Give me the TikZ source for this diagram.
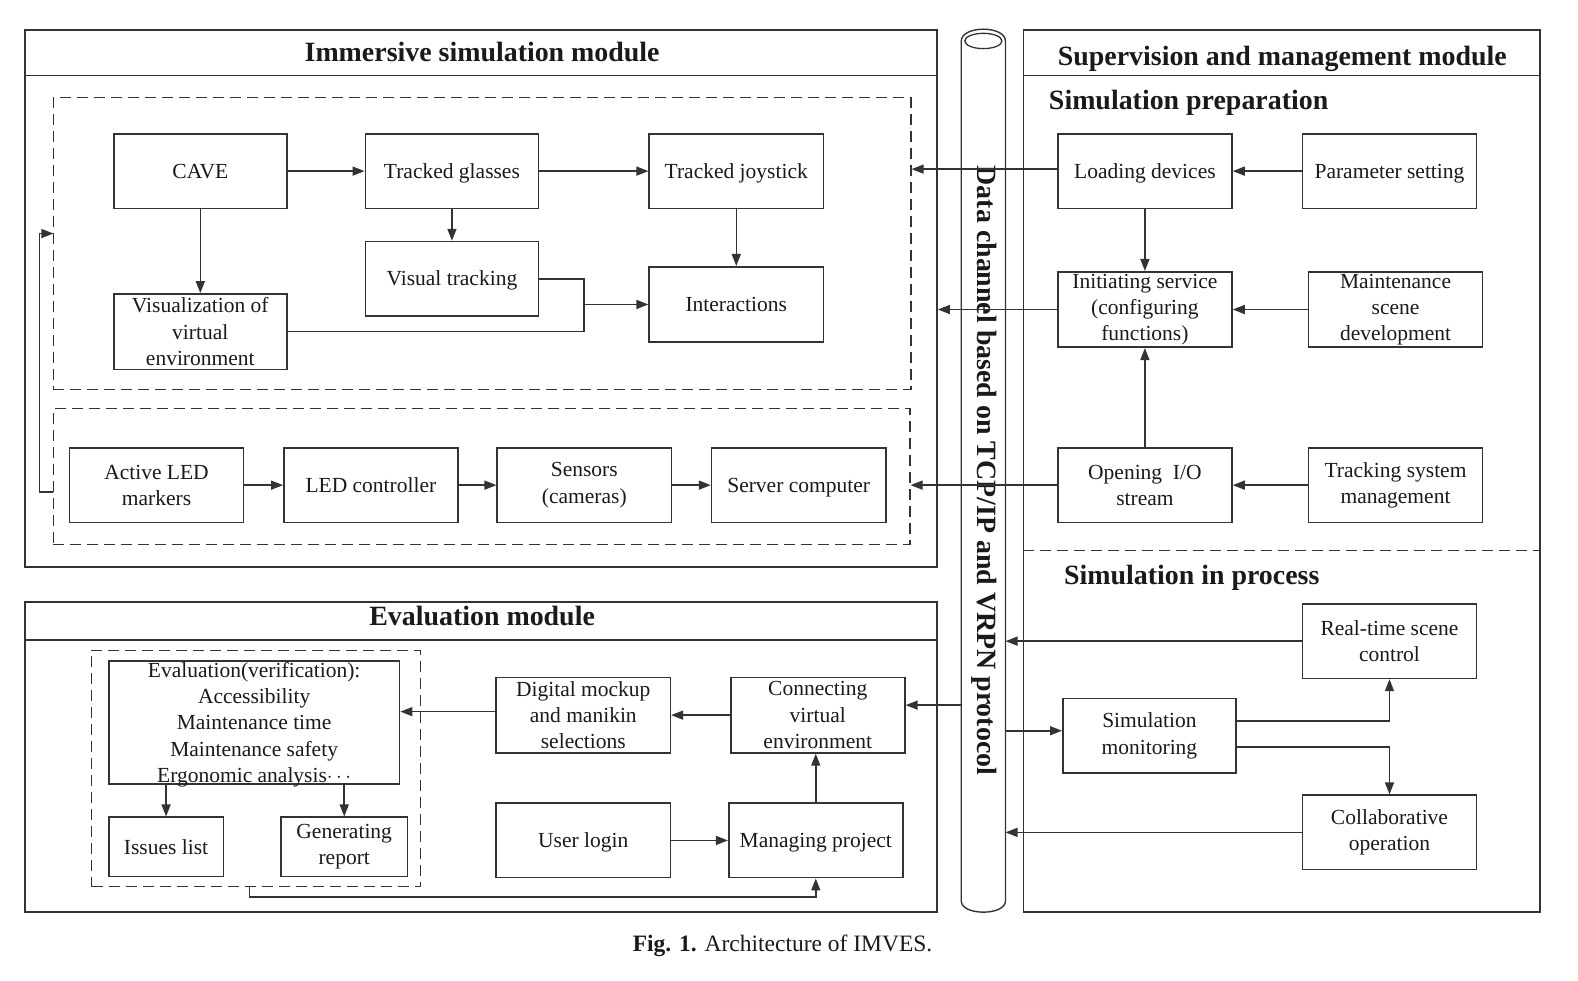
\documentclass[tikz,border=0pt]{standalone}
\usepackage{fontspec}
\setmainfont{Liberation Serif}
\usetikzlibrary{arrows.meta,fit,calc}
\definecolor{lc}{HTML}{333333}
\definecolor{tc}{HTML}{1A1A1A}
\newcommand\mybox[4]{\node[bx, fit={#2 #3}] (#1) {};\node[txt] at (#1.center) {#4};}
\newcommand\myboxs[4]{\node[bx, fit={#2 #3}] (#1) {};\node[txt, text height=14.2pt, text depth=0pt] at (#1.center) {#4};}
\begin{document}
\begin{tikzpicture}[x=1.0065pt,y=-1.0065pt,
  bx/.style={draw=lc, line width=1.6pt, inner sep=0pt},
  obx/.style={draw=lc, line width=1.7pt, inner sep=0pt},
  dsh/.style={draw=lc, line width=1.4pt, dash pattern=on 11pt off 6pt, inner sep=0pt},
  txt/.style={font=\fontsize{21.5}{26.2}\selectfont, align=center, text=tc, inner sep=0pt},
  ttl/.style={font=\bfseries\fontsize{27.9}{32}\selectfont, text=tc, inner sep=0pt},
  arr/.style={draw=lc, line width=1.5pt, -{Triangle[length=12pt,width=9pt]}},
  cn/.style={draw=lc, line width=1.5pt}]
\useasboundingbox (0,0) rectangle (1567.8,973.7);
\fill[white] (0,0) rectangle (1567.8,973.7);

% ---------- outer modules ----------
\node[obx, fit={(25,30) (931,563)}] (imm) {};
\draw[cn, line width=1.7pt] (imm.west |- 0,75) -- (imm.east |- 0,75);
\node[ttl, anchor=base] (immT) at (479,61.5) {Immersive simulation module};

\node[obx, fit={(1017,30) (1530,906)}] (sup) {};
\draw[cn, line width=1.7pt] (sup.west |- 0,75) -- (sup.east |- 0,75);
\node[ttl, anchor=base] (supT) at (1274,65) {Supervision and management module};
\node[ttl, anchor=base west] (prepT) at (1042,109) {Simulation preparation};
\draw[dsh] (sup.west |- 0,547) -- (sup.east |- 0,547);
\node[ttl, anchor=base west] (procT) at (1057,581) {Simulation in process};

\node[obx, fit={(25,598) (931,906)}] (eva) {};
\draw[cn, line width=1.7pt] (eva.west |- 0,636) -- (eva.east |- 0,636);
\node[ttl, anchor=base] (evaT) at (479,621.5) {Evaluation module};

% ---------- data channel pipe ----------
\coordinate (pL) at (955,0);
\coordinate (pR) at (999,0);
\draw[draw=lc, line width=1.4pt] (955,895) -- (955,41)
  .. controls (955,25) and (999,25) .. (999,41) -- (999,895)
  .. controls (999,910) and (955,910) .. (955,895);
\draw[draw=lc, line width=1.3pt] (977,40.7) ellipse [x radius=18.4, y radius=7.6];
\node[ttl, rotate=-90] (pipeT) at (978,467.5) {Data channel based on TCP/IP and VRPN protocol};

% ---------- immersive simulation module ----------
\node[dsh, fit={(53,97) (905,387)}] (d1) {};
\node[dsh, fit={(53,406) (904,541)}] (d2) {};

\myboxs{cave}{(113,133)}{(285,207)}{CAVE}
\myboxs{tg}{(363,133)}{(535,207)}{Tracked glasses}
\myboxs{tj}{(645,133)}{(818,207)}{Tracked joystick}
\myboxs{vt}{(363,240)}{(535,314)}{Visual tracking}
\mybox{viz}{(113,292)}{(285,367)}{Visualization of\\virtual\\environment}
\myboxs{inter}{(645,265)}{(818,340)}{Interactions}

\mybox{led}{(69,445)}{(242,519)}{Active LED\\markers}
\myboxs{ledc}{(282,445)}{(455,519)}{LED controller}
\mybox{sens}{(494,445)}{(667,519)}{Sensors\\(cameras)}
\myboxs{srv}{(707,445)}{(880,519)}{Server computer}

\draw[arr] (cave.east) -- (tg.west);
\draw[arr] (tg.east) -- (tj.west);
\draw[arr] (tg.south) -- (vt.north);
\draw[arr] (cave.south) -- (viz.north);
\draw[arr] (tj.south) -- (inter.north);
\coordinate (j1) at (580,302.5);
\draw[cn] (vt.east) -| (j1);
\draw[cn] (viz.east) -| (j1);
\draw[arr] (j1) -- (inter.west);

\draw[arr] (led.east) -- (ledc.west);
\draw[arr] (ledc.east) -- (sens.west);
\draw[arr] (sens.east) -- (srv.west);

\coordinate (fb1) at (53,489);
\coordinate (fb2) at (53,232);
\draw[arr] (fb1) -- ++(-14,0) |- (fb2);

% ---------- supervision: preparation ----------
\myboxs{load}{(1051,133)}{(1224,207)}{Loading devices}
\myboxs{param}{(1294,133)}{(1467,207)}{Parameter setting}
\mybox{init}{(1051,270)}{(1224,345)}{Initiating service\\(configuring\\functions)}
\mybox{maint}{(1300,270)}{(1473,345)}{Maintenance\\scene\\development}
\mybox{open}{(1051,445)}{(1224,519)}{Opening\ \ I/O\\stream}
\mybox{track}{(1300,445)}{(1473,519)}{Tracking system\\management}

\draw[arr] (param.west) -- (load.east);
\draw[arr] (maint.west) -- (init.east);
\draw[arr] (track.west) -- (open.east);
\draw[arr] (load.south) -- (init.north);
\draw[arr] (open.north) -- (init.south);
\draw[arr] ([yshift=2pt]load.west) -- ([yshift=2pt]load.west -| d1.east);
\draw[arr] (init.west) -- (init.west -| imm.east);
\draw[arr] (open.west) -- (open.west -| d2.east);

% ---------- supervision: in process ----------
\mybox{rt}{(1294,600)}{(1467,674)}{Real-time scene\\control}
\mybox{sm}{(1056,694)}{(1228,768)}{Simulation\\monitoring}
\mybox{co}{(1294,790)}{(1467,864)}{Collaborative\\operation}

\draw[arr] (rt.west) -- (rt.west -| pR);
\draw[arr] (co.west) -- (co.west -| pR);
\draw[arr] ([yshift=5pt]sm.west -| pR) -- ([yshift=5pt]sm.west);
\draw[arr] ([yshift=15pt]sm.east) -| (rt.south);
\draw[arr] ([yshift=-11pt]sm.east) -| (co.north);

% ---------- evaluation module ----------
\node[dsh, fit={(91,646) (418,881)}] (d3) {};
\node[bx, fit={(108,657) (397,779)}] (ev) {};
\node[txt, yshift=-2pt] at (ev.center) {Evaluation(verification):\\Accessibility\\Maintenance time\\Maintenance safety\\Ergonomic analysis$\cdots$};
\myboxs{il}{(108,812)}{(222,871)}{Issues list}
\mybox{gr}{(279,812)}{(405,871)}{Generating\\report}
\mybox{dig}{(493,673)}{(666,748)}{Digital mockup\\and manikin\\selections}
\mybox{conn}{(726,673)}{(899,748)}{Connecting\\virtual\\environment}
\myboxs{ul}{(493,798)}{(666,872)}{User login}
\myboxs{mp}{(724,798)}{(897,872)}{Managing project}

\draw[arr] (ev.south -| il.north) -- (il.north);
\draw[arr] (ev.south -| gr.north) -- (gr.north);
\draw[arr] ([yshift=3.5pt]dig.west) -- ([yshift=3.5pt]dig.west -| ev.east);
\draw[arr] (conn.west) -- (conn.west -| dig.east);
\draw[arr] ([yshift=10pt]conn.east -| pL) -- ([yshift=10pt]conn.east);
\draw[arr] (mp.north) -- (mp.north |- conn.south);
\draw[arr] (ul.east) -- (mp.west);
\draw[arr] ([xshift=-6.5pt]d3.south) -- ++(0,9.5) -| (mp.south);

% ---------- caption ----------
\node[font=\fontsize{23.5}{28}\selectfont, text=tc, inner sep=0pt] (cap) at (777.5,940) {\textbf{Fig. 1.} Architecture of IMVES.};
\end{tikzpicture}
\end{document}
